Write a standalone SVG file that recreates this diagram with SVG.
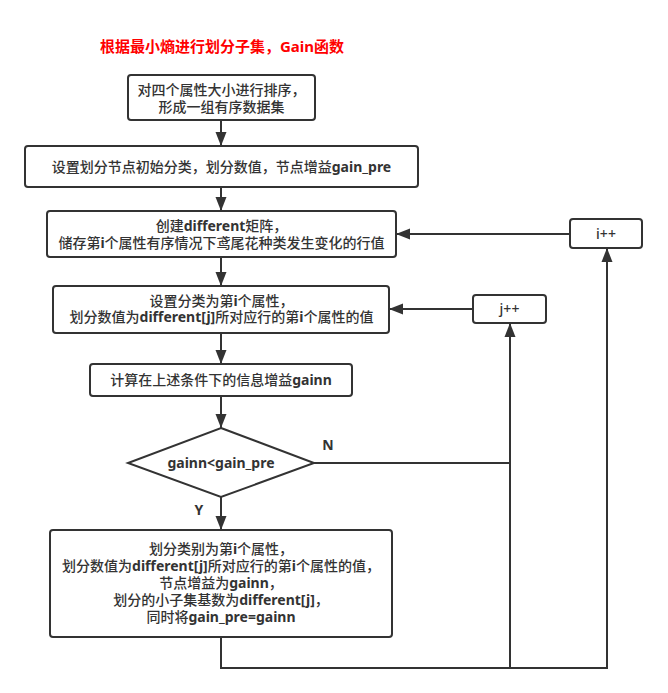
<svg xmlns="http://www.w3.org/2000/svg" width="668" height="693" viewBox="0 0 668 693">
<style>
.t{font-family:"Noto Sans","Noto Sans CJK SC",sans-serif;font-size:14px;font-weight:500;fill:#333333;text-anchor:middle}
.b{font-weight:bold}
.box{fill:#ffffff;stroke:#333333;stroke-width:2}
.ln{fill:none;stroke:#333333;stroke-width:2}
.title{font-family:"Noto Sans","Noto Sans CJK SC",sans-serif;font-size:15px;font-weight:bold;fill:#ff0000;text-anchor:middle}
</style>
<defs>
<marker id="arr" markerUnits="userSpaceOnUse" markerWidth="14" markerHeight="12" refX="14" refY="6" orient="auto">
<path d="M0,0.5 L14,6 L0,11.5 z" fill="#333333"/>
</marker>
</defs>
<rect width="668" height="693" fill="#ffffff"/>
<text class="title" x="222" y="52">根据最小熵进行划分子集，Gain函数</text>

<g id="connectors">
<path class="ln" d="M221,121 L221,146" marker-end="url(#arr)"/>
<path class="ln" d="M221,187 L221,211" marker-end="url(#arr)"/>
<path class="ln" d="M221,257 L221,286" marker-end="url(#arr)"/>
<path class="ln" d="M221,333 L221,364" marker-end="url(#arr)"/>
<path class="ln" d="M221,396 L221,428" marker-end="url(#arr)"/>
<path class="ln" d="M221,497 L221,530" marker-end="url(#arr)"/>
<path class="ln" d="M314,463 L510,463 L510,323" marker-end="url(#arr)"/>
<path class="ln" d="M221,637 L221,668 L510,668 L510,463"/>
<path class="ln" d="M510,668 L607,668 L607,248" marker-end="url(#arr)"/>
<path class="ln" d="M473,309 L389,309" marker-end="url(#arr)"/>
<path class="ln" d="M570,234 L396,234" marker-end="url(#arr)"/>
<text class="t b" x="328" y="450">N</text>
<text class="t b" x="199" y="515">Y</text>
</g>

<g id="n1">
<rect class="box" x="128" y="75" width="187" height="45" rx="3"/>
<text class="t" x="221.5" y="95">对四个属性大小进行排序，</text>
<text class="t" x="221.5" y="112">形成一组有序数据集</text>
</g>

<g id="n2">
<rect class="box" x="25" y="146" width="393" height="41" rx="3"/>
<text class="t" x="221.5" y="172">设置划分节点初始分类，划分数值，节点增益<tspan class="b">gain_pre</tspan></text>
</g>

<g id="n3">
<rect class="box" x="47" y="211" width="349" height="46" rx="3"/>
<text class="t" x="221.5" y="231">创建<tspan class="b">different</tspan>矩阵，</text>
<text class="t" x="221.5" y="248">储存第<tspan class="b">i</tspan>个属性有序情况下鸢尾花种类发生变化的行值</text>
</g>

<g id="n4">
<rect class="box" x="53" y="286" width="336" height="47" rx="3"/>
<text class="t" x="221.5" y="306">设置分类为第<tspan class="b">i</tspan>个属性，</text>
<text class="t" x="221.5" y="322">划分数值为<tspan class="b">different[j]</tspan>所对应行的第<tspan class="b">i</tspan>个属性的值</text>
</g>

<g id="n5">
<rect class="box" x="90" y="364" width="262" height="32" rx="3"/>
<text class="t" x="221" y="385">计算在上述条件下的信息增益<tspan class="b">gainn</tspan></text>
</g>

<g id="n6">
<path class="box" d="M221,428 L314,463 L221,497 L128,463 z"/>
<text class="t b" x="221" y="468">gainn&lt;gain_pre</text>
</g>

<g id="n7">
<rect class="box" x="50" y="530" width="342" height="107" rx="3"/>
<text class="t" x="221" y="554">划分类别为第<tspan class="b">i</tspan>个属性，</text>
<text class="t" x="221" y="571">划分数值为<tspan class="b">different[j]</tspan>所对应行的第<tspan class="b">i</tspan>个属性的值，</text>
<text class="t" x="221" y="588">节点增益为<tspan class="b">gainn</tspan>，</text>
<text class="t" x="221" y="605">划分的小子集基数为<tspan class="b">different[j]</tspan>，</text>
<text class="t" x="221" y="622">同时将<tspan class="b">gain_pre=gainn</tspan></text>
</g>

<g id="n8">
<rect class="box" x="570" y="219" width="72" height="29" rx="3"/>
<text class="t" x="606" y="239">i++</text>
</g>

<g id="n9">
<rect class="box" x="473" y="295" width="73" height="28" rx="3"/>
<text class="t" x="509.5" y="314">j++</text>
</g>
</svg>
